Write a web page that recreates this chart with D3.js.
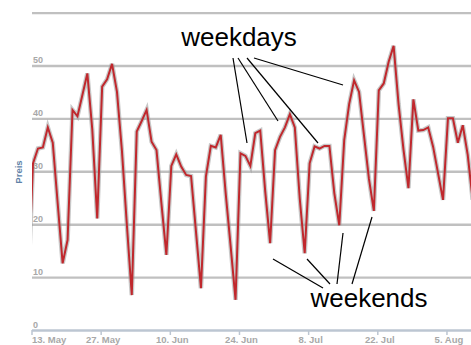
<!DOCTYPE html>
<html>
<head>
<meta charset="utf-8">
<script src="https://cdn.jsdelivr.net/npm/d3@7/dist/d3.min.js"></script>
<style>
  html, body { margin: 0; padding: 0; background: #fff; }
  svg { display: block; }
</style>
</head>
<body>
<div id="chart"></div>
<script>
// Daily values, starting on 12 May 2013 (first point is clipped at the plot edge)
const startDate = new Date(2013, 4, 12);
const prices = [
  8,
  31.6, 34.4, 34.6, 38.4, 35.5, 24, 12.7,
  17.1, 41.7, 40.5, 44.5, 48.6, 38, 21.2,
  46.1, 47.5, 50.4, 45.1, 34, 20, 6.7,
  37.6, 39.6, 41.7, 35.7, 34.1, 24, 14.3,
  31.1, 33.3, 31.0, 29.4, 29.2, 18.6, 8.0,
  29.1, 34.9, 34.6, 37.0, 26, 16, 5.8,
  33.5, 33.0, 31.1, 37.3, 37.8, 26.4, 16.5,
  34.1, 36.6, 38.4, 40.9, 38.4, 24.9, 14.6,
  31.6, 34.8, 34.4, 34.9, 34.9, 25.9, 19.9,
  36.0, 42.8, 47.3, 45.1, 36.9, 28.7, 22.6,
  45.4, 46.7, 50.8, 53.8, 42.8, 34.2, 26.9,
  43.7, 37.8, 37.9, 38.4, 34.7, 29.7, 24.7,
  40.1, 40.1, 35.5, 38.8, 33.2, 24.7
];
const yTicks = [0, 10, 20, 30, 40, 50, 60];
const yLabels = [0, 10, 20, 30, 40, 50];
const xTickDates = ["2013-05-13", "2013-05-27", "2013-06-10", "2013-06-24", "2013-07-08", "2013-07-22", "2013-08-05"];
const yTitle = "Preis";

// annotation callouts: label, label anchor, and pointer lines [x1,y1,x2,y2]
const annotations = [
  { text: "weekdays", x: 239, y: 46,
    lines: [[233, 58, 247, 143], [238, 58, 278, 121], [247, 58, 318, 143], [254, 58, 343, 85]] },
  { text: "weekends", x: 369, y: 307,
    lines: [[273, 259, 323, 288], [307, 259, 330, 284], [343, 233, 337, 284], [372, 217, 352, 284]] }
];

const data = prices.map((v, i) => ({ date: d3.timeDay.offset(startDate, i), value: v }));

const W = 471, H = 345;
const plotLeft = 32, plotRight = 471;

const svg = d3.select("#chart").append("svg")
  .attr("width", W).attr("height", H);

// May 13 at x=33, 4.94 px per day
const x = d3.scaleTime()
  .domain([new Date(2013, 4, 13), new Date(2013, 7, 5)])
  .range([33, 33 + 84 * 4.94]);
const y = d3.scaleLinear().domain([0, 60]).range([330.5, 13.1]);

// Gridlines
svg.append("g").selectAll("line.grid")
  .data(yTicks.filter(d => d > 0)).join("line").attr("class", "grid")
  .attr("x1", plotLeft).attr("x2", plotRight)
  .attr("y1", d => y(d)).attr("y2", d => y(d))
  .attr("stroke", "#c0c0c0").attr("stroke-width", 2.4);

// Y labels, sitting above the gridline
svg.append("g").selectAll("text.ylab")
  .data(yLabels).join("text").attr("class", "ylab")
  .attr("x", 33).attr("y", d => y(d) - 3)
  .attr("font-family", "Liberation Sans, Arial, sans-serif")
  .attr("font-size", 9).attr("font-weight", "bold").attr("fill", "#a8a8a8")
  .text(d => d);

// Y axis title
svg.append("text")
  .attr("transform", `translate(22, 172) rotate(-90)`)
  .attr("text-anchor", "middle")
  .attr("font-family", "Liberation Sans, Arial, sans-serif")
  .attr("font-size", 9.5).attr("font-weight", "bold").attr("fill", "#5f82a8")
  .text(yTitle);

// X axis
const parse = d3.timeParse("%Y-%m-%d");
const fmt = d3.timeFormat("%-d. %b");
const xTicks = xTickDates.map(parse);
svg.append("line")
  .attr("x1", plotLeft).attr("x2", plotRight)
  .attr("y1", 330.5).attr("y2", 330.5)
  .attr("stroke", "#bcc6d2").attr("stroke-width", 2.4);
svg.append("g").selectAll("line.tick")
  .data(xTicks).join("line").attr("class", "tick")
  .attr("x1", d => x(d) - 1).attr("x2", d => x(d) - 1)
  .attr("y1", 330).attr("y2", 335)
  .attr("stroke", "#bcc6d2").attr("stroke-width", 1.5);
svg.append("g").selectAll("text.xlab")
  .data(xTicks).join("text").attr("class", "xlab")
  .attr("x", (d, i) => i === 0 ? x(d) - 1 : x(d) + 1)
  .attr("y", 343)
  .attr("text-anchor", (d, i) => i === 0 ? "start" : "middle")
  .attr("font-family", "Liberation Sans, Arial, sans-serif")
  .attr("font-size", 9.5).attr("font-weight", "bold").attr("fill", "#a8a8a8")
  .text(d => fmt(d));

// Series line, clipped to the plot area
svg.append("clipPath").attr("id", "plot-clip")
  .append("rect").attr("x", plotLeft).attr("y", 0)
  .attr("width", plotRight - plotLeft).attr("height", 332);

const line = d3.line().x(d => x(d.date)).y(d => y(d.value));
const g = svg.append("g").attr("clip-path", "url(#plot-clip)");
g.append("path").datum(data)
  .attr("d", line).attr("fill", "none")
  .attr("stroke", "#9a9a9a").attr("stroke-opacity", 0.55)
  .attr("stroke-width", 4.5).attr("stroke-linejoin", "miter");
g.append("path").datum(data)
  .attr("d", line).attr("fill", "none")
  .attr("stroke", "#c0282d").attr("stroke-width", 2)
  .attr("stroke-linejoin", "miter");

// Annotations
annotations.forEach(a => {
  svg.append("g").selectAll("line")
    .data(a.lines).join("line")
    .attr("x1", d => d[0]).attr("y1", d => d[1])
    .attr("x2", d => d[2]).attr("y2", d => d[3])
    .attr("stroke", "#000").attr("stroke-width", 1.2);
  svg.append("text")
    .attr("x", a.x).attr("y", a.y)
    .attr("text-anchor", "middle")
    .attr("font-family", "Liberation Sans, Arial, sans-serif")
    .attr("font-size", 26).attr("fill", "#000")
    .text(a.text);
});
</script>
</body>
</html>
